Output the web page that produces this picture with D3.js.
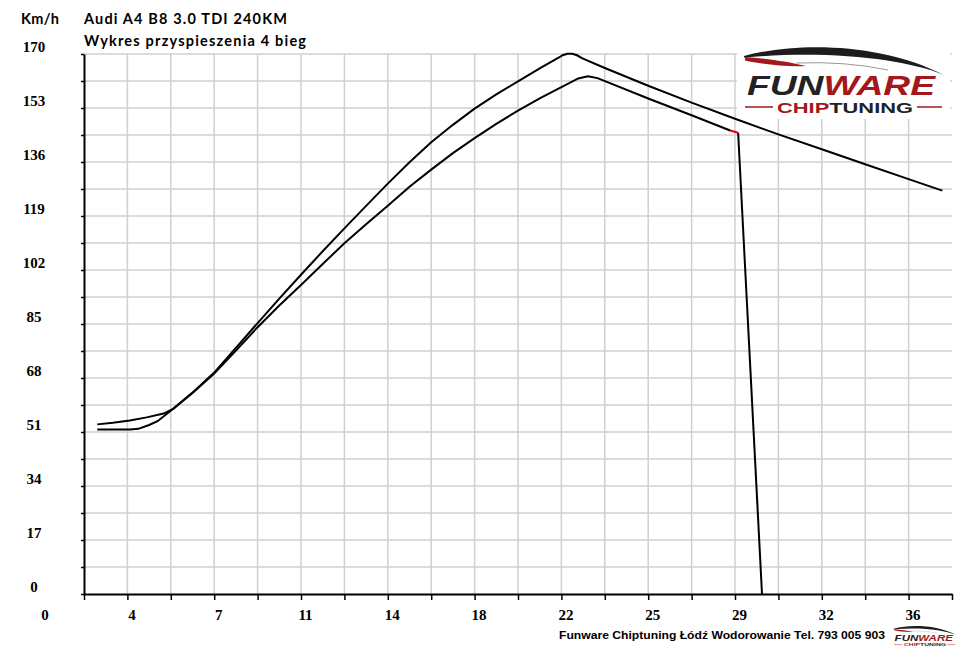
<!DOCTYPE html>
<html>
<head>
<meta charset="utf-8">
<script src="https://cdn.jsdelivr.net/npm/d3@7"></script>
<style>
  body { margin: 0; background: #fff; }
</style>
</head>
<body>
<div id="chart"></div>
<script>
// czas [s] i predkosc [km/h]
var tunedTime  = [2.35, 3.0, 3.7, 4.4, 5.1, 5.5, 6.3, 7.2, 8.1, 9.0, 9.9, 10.8, 11.7, 12.6, 13.5, 14.4, 15.3, 16.2, 17.1, 18.0, 18.9, 19.8, 20.7, 21.5, 21.65, 21.85, 22.05, 22.25, 22.45, 23.4, 25.2, 27.0, 28.8, 30.6, 32.4, 34.2, 36.0, 37.4];
var tunedSpeed = [53.4, 53.9, 54.6, 55.6, 56.8, 58.3, 63.4, 69.7, 77.5, 85.3, 93.0, 100.5, 107.9, 115.1, 122.2, 129.2, 135.9, 142.2, 147.7, 152.8, 157.3, 161.4, 165.5, 168.9, 169.6, 170.1, 170.1, 169.6, 168.7, 165.6, 160.0, 154.7, 149.6, 144.7, 140.0, 135.3, 130.6, 127.0];

var stockTime  = [2.35, 3.0, 3.7, 4.05, 4.5, 4.85, 5.5, 6.3, 7.2, 8.1, 9.0, 9.9, 10.8, 11.7, 12.6, 13.5, 14.4, 15.3, 16.2, 17.1, 18.0, 18.9, 19.8, 20.7, 21.6, 22.3, 22.7, 23.1, 25.2, 27.0, 28.6];
var stockSpeed = [51.8, 51.8, 51.8, 52.0, 53.2, 54.4, 58.3, 63.3, 69.4, 76.6, 84.0, 90.8, 97.3, 103.9, 110.4, 116.4, 122.2, 128.2, 133.6, 138.8, 143.5, 148.0, 152.2, 156.0, 159.6, 162.3, 163.0, 162.4, 156.0, 150.7, 145.9];

var markTime  = [28.6, 28.93];
var markSpeed = [145.9, 145.2];
var dropTime  = [28.93, 29.92];
var dropSpeed = [145.2, 0];

var xGrid   = d3.range(0, 21).map(function(i){ return +(1.8 + i * 1.8).toFixed(1); });
var yGrid   = d3.range(0, 21).map(function(i){ return i * 8.5; });
var xLabelPos = [0, 3.6, 7.2, 10.8, 14.4, 18, 21.6, 25.2, 28.8, 32.4, 36];
var xLabels   = ["0", "4", "7", "11", "14", "18", "22", "25", "29", "32", "36"];
var yLabels   = [0, 17, 34, 51, 68, 85, 102, 119, 136, 153, 170];

function pairs(xs, ys){
  return xs.map(function(d, i){ return [d, ys[i]]; });
}

var svg = d3.select("#chart").append("svg")
  .attr("width", 960)
  .attr("height", 656);

var x = d3.scaleLinear().domain([1.8, 37.8]).range([84, 952]);
var y = d3.scaleLinear().domain([0, 170]).range([594, 54]);

// siatka
svg.append("g").selectAll("line")
  .data(xGrid.slice(1, 20))
  .enter().append("line")
  .attr("x1", function(d){ return x(d); })
  .attr("x2", function(d){ return x(d); })
  .attr("y1", y(170))
  .attr("y2", y(0))
  .attr("stroke", "#d0d0d0")
  .attr("stroke-width", 1.5);

svg.append("g").selectAll("line")
  .data(yGrid.slice(1))
  .enter().append("line")
  .attr("x1", x(1.8))
  .attr("x2", x(37.8))
  .attr("y1", function(d){ return y(d); })
  .attr("y2", function(d){ return y(d); })
  .attr("stroke", "#d0d0d0")
  .attr("stroke-width", 1.5);

// osie
var xAxis = svg.append("g")
  .attr("transform", "translate(0," + y(0) + ")")
  .call(d3.axisBottom(x).tickValues(xGrid).tickSize(6).tickSizeOuter(0).tickFormat(""));
var yAxis = svg.append("g")
  .attr("transform", "translate(" + x(1.8) + ",0)")
  .call(d3.axisLeft(y).tickValues(yGrid).tickSize(3).tickSizeOuter(0).tickFormat(""));
[xAxis, yAxis].forEach(function(a){
  a.select(".domain").attr("stroke", "#000").attr("stroke-width", 2);
  a.selectAll(".tick line").attr("stroke", "#000").attr("stroke-width", 1.5);
});

svg.append("g").selectAll("text")
  .data(xLabelPos)
  .enter().append("text")
  .attr("x", function(d){ return x(d) + 4.5; })
  .attr("y", 620)
  .attr("text-anchor", "middle")
  .style("font-family", "'Liberation Serif', serif")
  .style("font-weight", "bold")
  .style("font-size", "15px")
  .text(function(d, i){ return xLabels[i]; });

svg.append("g").selectAll("text")
  .data(yLabels)
  .enter().append("text")
  .attr("x", 34)
  .attr("y", function(d){ return y(d) - 2.5; })
  .attr("text-anchor", "middle")
  .style("font-family", "'Liberation Serif', serif")
  .style("font-weight", "bold")
  .style("font-size", "15px")
  .text(function(d){ return d; });

// naglowki
svg.append("text")
  .attr("x", 21).attr("y", 24)
  .attr("textLength", 38)
  .style("font-family", "Lato, sans-serif")
  .style("font-weight", "bold")
  .style("font-size", "14.5px")
  .text("Km/h");

svg.append("text")
  .attr("x", 84).attr("y", 24)
  .attr("textLength", 203)
  .style("font-family", "Lato, sans-serif")
  .style("font-weight", "bold")
  .style("font-size", "14.5px")
  .text("Audi A4 B8 3.0 TDI 240KM");

svg.append("text")
  .attr("x", 84).attr("y", 46)
  .attr("textLength", 222)
  .style("font-family", "Lato, sans-serif")
  .style("font-weight", "bold")
  .style("font-size", "14.5px")
  .text("Wykres przyspieszenia 4 bieg");

// logo
function draw_logo(g){
  g.append("path")
    .attr("d", "M744,56 C795,42 880,42 944,75 C905,59 830,50 744,57.5 Z")
    .attr("fill", "#1c1c1c");
  g.append("path")
    .attr("d", "M745,57 C765,58 790,62 806,66 C785,67 760,64 745,60.5 Z")
    .attr("fill", "#a3181d");
  g.append("path")
    .attr("d", "M796,63 Q845,61 888,70")
    .attr("fill", "none")
    .attr("stroke", "#999")
    .attr("stroke-width", 1);
  var t = g.append("text")
    .attr("x", 747).attr("y", 94.5)
    .attr("textLength", 188)
    .attr("lengthAdjust", "spacingAndGlyphs")
    .style("font-family", "'Liberation Sans', sans-serif")
    .style("font-weight", "bold")
    .style("font-style", "italic")
    .style("font-size", "28px");
  t.append("tspan").attr("fill", "#222").text("FUN");
  t.append("tspan").attr("fill", "#a3181d").text("WARE");
  var c = g.append("text")
    .attr("x", 777).attr("y", 112.5)
    .attr("textLength", 136)
    .attr("lengthAdjust", "spacingAndGlyphs")
    .style("font-family", "'Liberation Sans', sans-serif")
    .style("font-weight", "bold")
    .style("font-size", "14px");
  c.append("tspan").attr("fill", "#a3181d").text("CHIP");
  c.append("tspan").attr("fill", "#222").text("TUNING");
  g.append("line").attr("x1", 745).attr("x2", 773).attr("y1", 107).attr("y2", 107)
    .attr("stroke", "#a3181d").attr("stroke-width", 1.5);
  g.append("line").attr("x1", 917).attr("x2", 942).attr("y1", 107).attr("y2", 107)
    .attr("stroke", "#a3181d").attr("stroke-width", 1.5);
}

svg.append("rect")
  .attr("x", 737).attr("y", 44)
  .attr("width", 213).attr("height", 75)
  .attr("fill", "#fff");
draw_logo(svg.append("g"));
draw_logo(svg.append("g").attr("transform", "translate(894,627) scale(0.31) translate(-745,-50)"));

// krzywe
var line = d3.line()
  .x(function(d){ return x(d[0]); })
  .y(function(d){ return y(d[1]); });

svg.append("path")
  .datum(pairs(tunedTime, tunedSpeed))
  .attr("d", line)
  .attr("fill", "none")
  .attr("stroke", "#000")
  .attr("stroke-width", 2);

svg.append("path")
  .datum(pairs(stockTime, stockSpeed))
  .attr("d", line)
  .attr("fill", "none")
  .attr("stroke", "#000")
  .attr("stroke-width", 2);

svg.append("path")
  .datum(pairs(dropTime, dropSpeed))
  .attr("d", line)
  .attr("fill", "none")
  .attr("stroke", "#000")
  .attr("stroke-width", 2);

svg.append("path")
  .datum(pairs(markTime, markSpeed))
  .attr("d", line)
  .attr("fill", "none")
  .attr("stroke", "#e00000")
  .attr("stroke-width", 2);

// stopka
svg.append("text")
  .attr("x", 559).attr("y", 638.5)
  .attr("textLength", 326)
  .attr("lengthAdjust", "spacingAndGlyphs")
  .style("font-family", "'Liberation Sans', sans-serif")
  .style("font-weight", "bold")
  .style("font-size", "11.5px")
  .text("Funware Chiptuning Łódź Wodorowanie Tel. 793 005 903");
</script>
</body>
</html>
